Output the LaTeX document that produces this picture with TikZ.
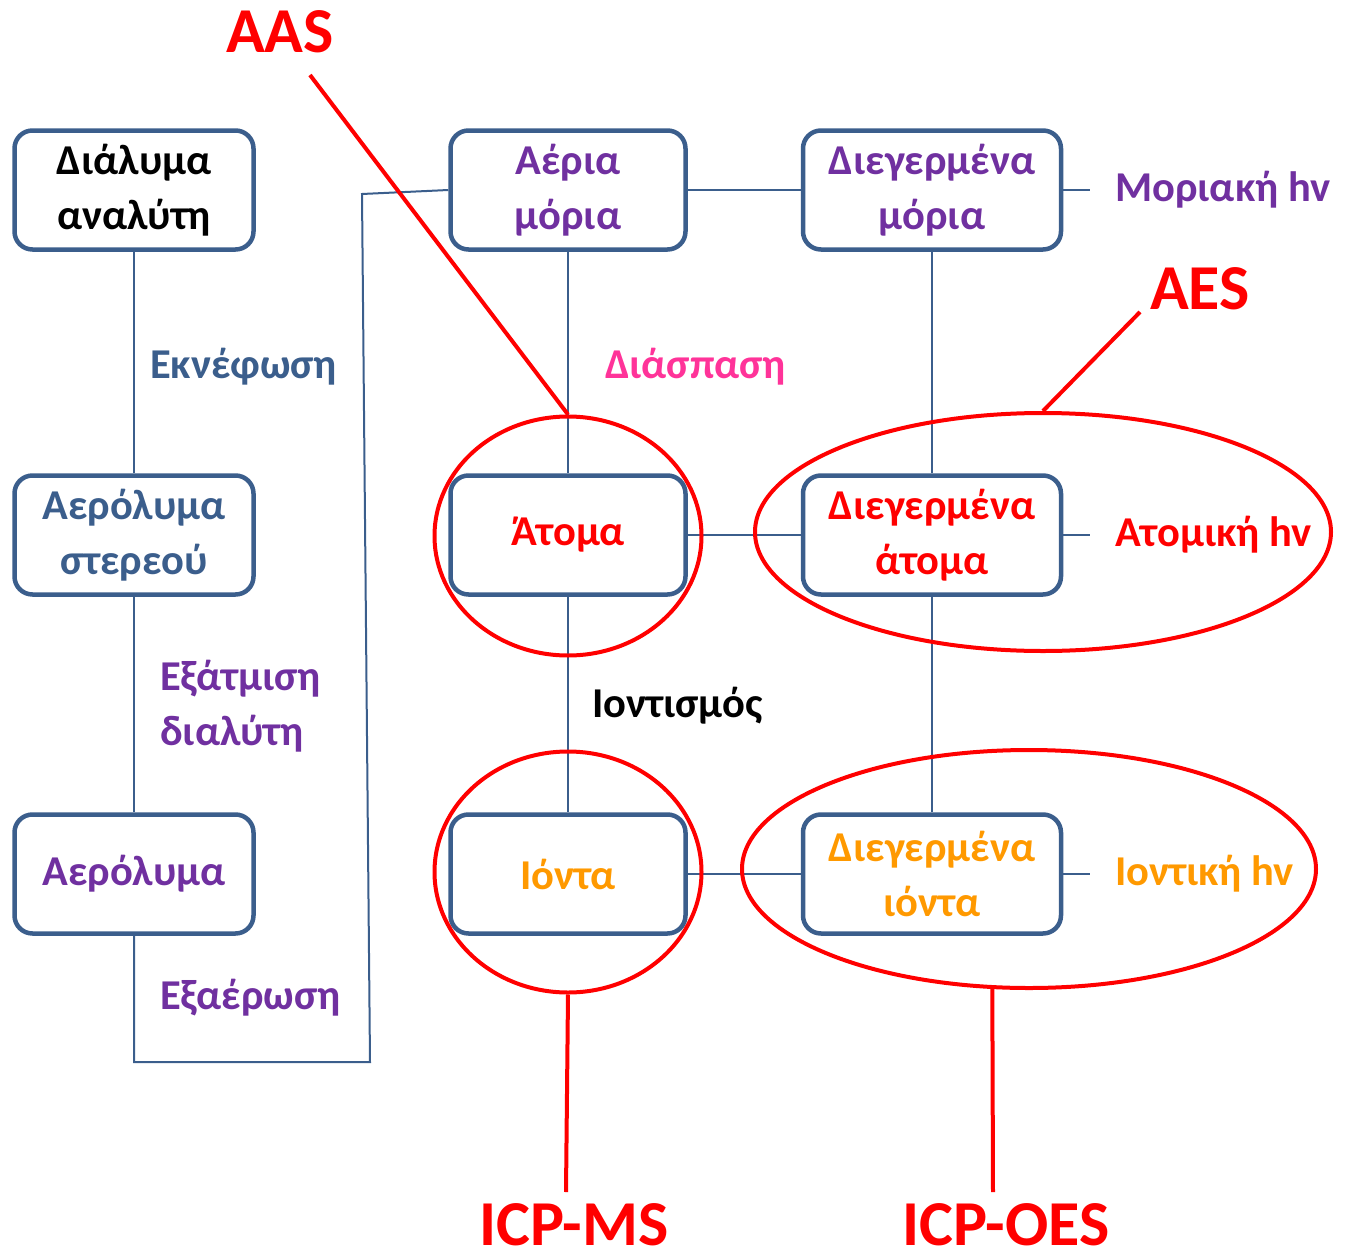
\documentclass[tikz,border=0pt]{standalone}
\usepackage{fontspec}
\setmainfont{Carlito}
\usetikzlibrary{shapes.geometric}
\definecolor{boxblue}{HTML}{3B5E8C}
\definecolor{txtpurple}{HTML}{7030A0}
\definecolor{txtpink}{HTML}{FF3399}
\definecolor{txtorange}{HTML}{FF9900}
\def\boxfont{\bfseries\fontsize{42.5}{55}\selectfont}
\def\bigfont{\bfseries\fontsize{64}{64}\selectfont}
\tikzstyle{stage}=[draw=boxblue, line width=4.5pt, rounded corners=18pt, minimum height=119pt, align=center, inner sep=0pt, font=\boxfont]
\tikzstyle{link}=[draw=boxblue, line width=2pt]
\tikzstyle{ring}=[draw=red, line width=4pt, ellipse, inner sep=0pt]
\tikzstyle{ray}=[draw=red, line width=4pt]
\tikzstyle{process}=[anchor=west, align=left, inner sep=0pt, font=\boxfont]
\tikzstyle{method}=[text=red, inner sep=0pt, anchor=base, font=\bigfont]

\begin{document}
\begin{tikzpicture}[x=1pt,y=-1pt]
       \useasboundingbox (0,0) rectangle (1345,1253);
       % stages
       \foreach \pos/\name/\w/\col/\txt in {{(134,190)/solution/239/black/{Διάλυμα\\αναλύτη}}, {(134,535)/aerosolsolid/239/boxblue/{Αερόλυμα\\στερεού}}, {(134,874)/aerosol/239/txtpurple/{Αερόλυμα}}, {(568,190)/gasmol/235/txtpurple/{Αέρια\\μόρια}}, {(932,190)/exmol/258/txtpurple/{Διεγερμένα\\μόρια}}, {(568,535)/atoms/235/red/{Άτομα}}, {(932,535)/exatoms/258/red/{Διεγερμένα\\άτομα}}, {(568,874)/ions/235/txtorange/{Ιόντα}}, {(932,874)/exions/258/txtorange/{Διεγερμένα\\ιόντα}}} {
           \node[stage, minimum width=\w pt, text=\col] (\name) at \pos {\txt};
       }
       % emission labels
       \node[process, text=txtpurple] (molhv) at (1115,190) {Μοριακή hv};
       \node[process, text=red] (atomhv) at (1115,535) {Ατομική hv};
       \node[process, text=txtorange] (ionhv) at (1115,874) {Ιοντική hv};
       % process labels
       \node[process, text=boxblue] (nebul) at (150,367) {Εκνέφωση};
       \node[process, text=txtpurple] (desolv) at (160,706) {Εξάτμιση\\διαλύτη};
       \node[process, text=txtpurple] (vapor) at (160,998) {Εξαέρωση};
       \node[process, text=txtpink] (dissoc) at (605,367) {Διάσπαση};
       \node[process, text=black] (ioniz) at (592,706) {Ιοντισμός};

       \draw[link] (solution) -- (aerosolsolid);
       \draw[link] (aerosolsolid) -- (aerosol);
       \draw[link] (aerosol.south) -- (134,1062) -- (370,1062) -- (362,194) -- (gasmol.west);
       \draw[link] (gasmol) -- (exmol);
       \draw[link] (gasmol) -- (atoms);
       \draw[link] (exmol) -- (exatoms);
       \draw[link] (atoms) -- (exatoms);
       \draw[link] (atoms) -- (ions);
       \draw[link] (exatoms) -- (exions);
       \draw[link] (ions) -- (exions);
       \foreach \a/\b in {exmol/molhv, exatoms/atomhv, exions/ionhv} {
           \draw[link, shorten >=25pt] (\a) -- (\b);
       }

       % techniques
       \node[ring, minimum width=267pt, minimum height=239pt] (ringAtoms) at (568,536) {};
       \node[ring, minimum width=576pt, minimum height=238pt] (ringExAtoms) at (1043,532) {};
       \node[ring, minimum width=267pt, minimum height=241pt] (ringIons) at (568,872) {};
       \node[ring, minimum width=574pt, minimum height=238pt] (ringExIons) at (1029,869) {};

       \node[method] (AAS) at (280,52) {AAS};
       \node[method] (AES) at (1200,309) {AES};
       \node[method] (ICPMS) at (574,1245) {ICP-MS};
       \node[method] (ICPOES) at (1006,1245) {ICP-OES};
       \coordinate (aasEnd) at (310,75);
       \coordinate (aesEnd) at (1140,312);
       \coordinate (msEnd) at (566,1192);
       \coordinate (oesEnd) at (993,1192);

       \draw[ray] (aasEnd) -- (ringAtoms.north);
       \draw[ray] (aesEnd) -- (ringExAtoms.north);
       \draw[ray] (ringIons.south) -- (msEnd);
       \draw[ray] (ringExIons.-107) -- (oesEnd);
\end{tikzpicture}
\end{document}
